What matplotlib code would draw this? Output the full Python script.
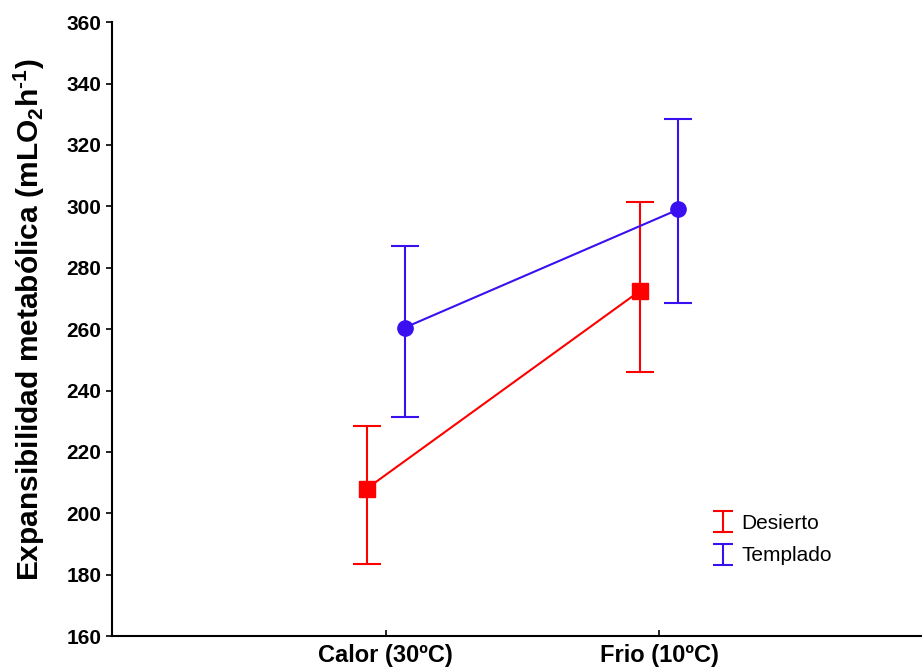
import numpy as np
import matplotlib.pyplot as plt

# data
categorias = ['Calor (30ºC)', 'Frio (10ºC)']
desierto_media = [208, 272.5]
desierto_sup = [228.5, 301.5]
desierto_inf = [183.5, 246]
templado_media = [260.5, 299]
templado_sup = [287, 328.5]
templado_inf = [231.5, 268.5]

plt.rcParams['font.family'] = ['Liberation Sans', 'DejaVu Sans']
plt.rcParams['mathtext.fontset'] = 'custom'
plt.rcParams['mathtext.rm'] = 'Liberation Sans:bold'
plt.rcParams['mathtext.default'] = 'rm'

rojo = '#ff0000'
azul = '#3a10f0'

x = np.arange(len(categorias))
off = 0.07

fig = plt.figure(figsize=(9.22, 6.71), dpi=100)
ax = fig.add_axes([0.1215, 0.052, 0.8785, 0.915])

d_err = [np.array(desierto_media) - np.array(desierto_inf),
         np.array(desierto_sup) - np.array(desierto_media)]
t_err = [np.array(templado_media) - np.array(templado_inf),
         np.array(templado_sup) - np.array(templado_media)]

ax.errorbar(x - off, desierto_media, yerr=d_err, color=rojo, marker='s',
            markersize=12, linewidth=1.5, elinewidth=1.5, capsize=10, capthick=1.5)
ax.errorbar(x + off, templado_media, yerr=t_err, color=azul, marker='o',
            markersize=11, linewidth=1.5, elinewidth=1.5, capsize=10, capthick=1.5)

# legend handles: only the bar with caps
h1 = ax.errorbar([np.nan], [np.nan], yerr=[[1], [1]], fmt='none', ecolor=rojo,
                 elinewidth=1.5, capsize=7, capthick=1.5)
h2 = ax.errorbar([np.nan], [np.nan], yerr=[[1], [1]], fmt='none', ecolor=azul,
                 elinewidth=1.5, capsize=7, capthick=1.5)
ax.legend([h1, h2], ['Desierto', 'Templado'], loc='upper left',
          bbox_to_anchor=(0.741, 0.199), frameon=False, fontsize=15,
          handlelength=1.0, handletextpad=0.4, labelspacing=0.65,
          borderpad=0, borderaxespad=0)

ax.set_xlim(-1, 1.96)
ax.set_ylim(160, 360)
ax.set_xticks(x)
ax.set_xticklabels(categorias, fontsize=17, fontweight='bold')
ax.set_yticks(np.arange(160, 361, 20))
ax.tick_params(axis='y', labelsize=15, direction='out', length=4, width=1.2)
ax.tick_params(axis='x', direction='in', length=4, width=1.2, pad=6)
for lab in ax.get_yticklabels():
    lab.set_fontweight('bold')
ax.set_ylabel(r'Expansibilidad metabólica (mLO$_2$h$^{\text{-}1}$)', fontsize=21.5,
              fontweight='bold')
ax.yaxis.set_label_coords(-0.08, 0.515)

ax.spines['top'].set_visible(False)
ax.spines['right'].set_visible(False)
ax.spines['left'].set_linewidth(1.5)
ax.spines['bottom'].set_linewidth(1.5)

plt.savefig('out.png', dpi=100)
